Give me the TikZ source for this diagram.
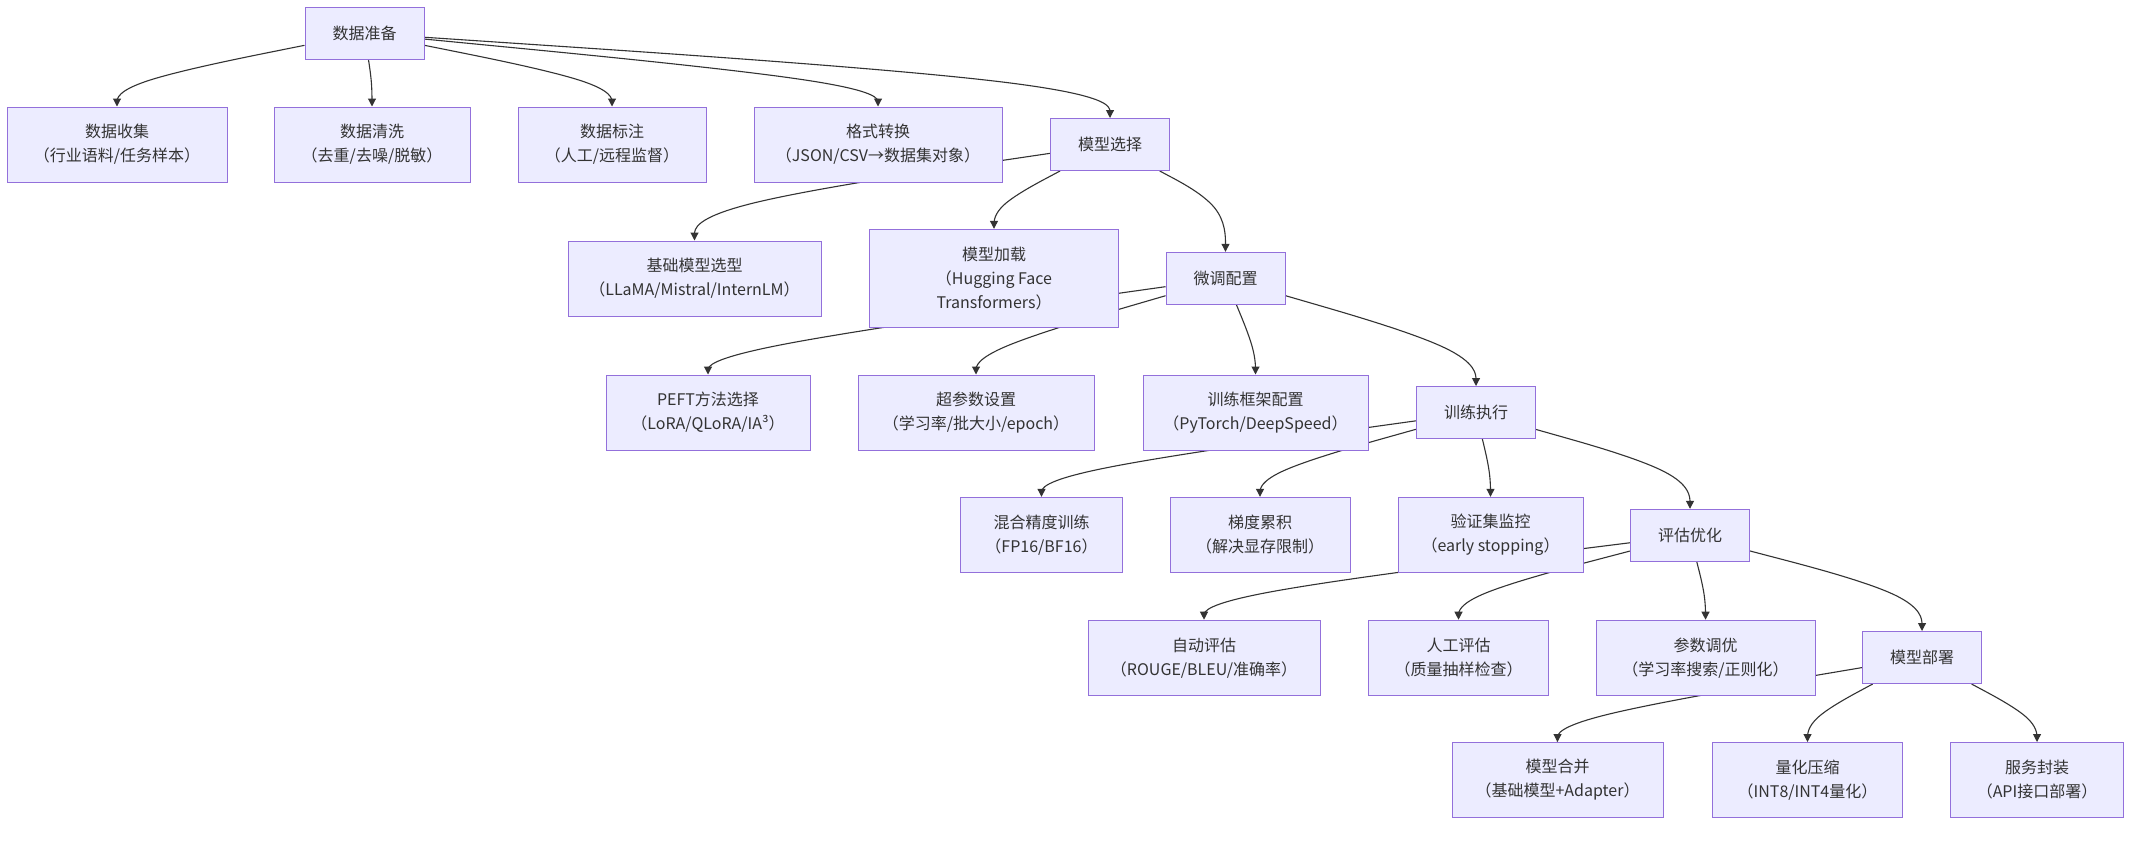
\documentclass[tikz,border=0pt]{standalone}
\usepackage{fontspec}
\setmainfont{Noto Sans CJK SC}
\usetikzlibrary{calc,arrows.meta}
\pgfdeclarelayer{back}
\pgfdeclarelayer{bg}
\pgfsetlayers{back,bg,main}
\definecolor{boxfill}{HTML}{ECECFF}
\definecolor{boxline}{HTML}{9370DB}
\definecolor{txtc}{HTML}{333333}
\definecolor{edgec}{HTML}{333333}
\tikzset{
  box/.style={draw=boxline, fill=boxfill, line width=1pt, inner sep=0pt,
    align=center, text=txtc, font=\fontsize{16}{24}\selectfont},
  edgeline/.style={draw=edgec, line width=1.1pt, -{Triangle[length=8pt,width=8pt]}}
}
\newcommand\bx[6]{\node[box,minimum width=#4pt,minimum height=#5pt] (#1) at (#2,#3) {#6};}
\newcommand\myedge[3]{%
  \coordinate (Y) at (0,#3);
  \coordinate (B) at (#2.center |- Y);
  \path (#1) -- coordinate[pos=0] (A) (B);
  \path (#2) -- coordinate[pos=0] (C) (B);
  \coordinate (P1) at ($(A)!0.666667!(B)$);
  \coordinate (P2) at ($(B)!0.333333!(C)$);
  \coordinate (M) at ($(P1)!0.5!(P2)$);
  \begin{pgfonlayer}{bg}
  \draw[edgeline] (A) -- ($(A)!0.166667!(B)$) .. controls ($(A)!0.333333!(B)$) and (P1) .. (M) .. controls (P2) and ($(B)!0.666667!(C)$) .. ($(B)!0.833333!(C)$) -- (C);
  \end{pgfonlayer}
}
\begin{document}
\begin{tikzpicture}[x=1pt,y=-1pt]
\begin{pgfonlayer}{back}
\fill[white] (0,0) rectangle (2133,852);
\end{pgfonlayer}
\useasboundingbox (0,0) rectangle (2133,852);
% row 0
\bx{prep}{364.5}{33.3}{119}{52}{数据准备}
% row 2
\bx{collect}{117}{144.5}{220}{75}{数据收集\\（行业语料/任务样本）}
\bx{clean}{372}{144.5}{196}{75}{数据清洗\\（去重/去噪/脱敏）}
\bx{label}{612}{144.5}{188}{75}{数据标注\\（人工/远程监督）}
\bx{fmt}{878}{144.5}{248}{75}{格式转换\\（JSON/CSV→数据集对象）}
\bx{msel}{1110}{144.5}{119}{52}{模型选择}
% row 4
\bx{base}{694.5}{278.5}{253}{75}{基础模型选型\\（LLaMA/Mistral/InternLM）}
\bx{load}{994}{278.3}{249}{98}{模型加载\\（Hugging Face\\Transformers）}
\bx{ftcfg}{1225.5}{278.3}{119}{52}{微调配置}
% row 6
\bx{peft}{708}{412.5}{204}{75}{PEFT方法选择\\（LoRA/QLoRA/IA³）}
\bx{hyper}{976}{412.5}{236}{75}{超参数设置\\（学习率/批大小/epoch）}
\bx{frame}{1255.5}{412.5}{225}{75}{训练框架配置\\（PyTorch/DeepSpeed）}
\bx{train}{1476}{412.5}{119}{52}{训练执行}
% row 8
\bx{amp}{1041.5}{534.8}{162}{75}{混合精度训练\\（FP16/BF16）}
\bx{grad}{1260}{534.8}{180}{75}{梯度累积\\（解决显存限制）}
\bx{val}{1490.5}{534.8}{185}{75}{验证集监控\\（early stopping）}
\bx{eval}{1690}{535.3}{119}{52}{评估优化}
% row 10
\bx{auto}{1204}{657.7}{232}{75}{自动评估\\（ROUGE/BLEU/准确率）}
\bx{human}{1458.5}{657.7}{180}{75}{人工评估\\（质量抽样检查）}
\bx{tune}{1705.5}{657.7}{219}{75}{参数调优\\（学习率搜索/正则化）}
\bx{deploy}{1922}{657.5}{119}{52}{模型部署}
% row 12
\bx{merge}{1557.5}{780}{211}{75}{模型合并\\（基础模型+Adapter）}
\bx{quant}{1807.5}{780}{190}{75}{量化压缩\\（INT8/INT4量化）}
\bx{serve}{2037}{780}{173}{75}{服务封装\\（API接口部署）}
% edges
\myedge{prep}{collect}{83}
\myedge{prep}{clean}{83}
\myedge{prep}{label}{83}
\myedge{prep}{fmt}{83}
\myedge{prep}{msel}{83}
\myedge{msel}{base}{206}
\myedge{msel}{load}{206}
\myedge{msel}{ftcfg}{206}
\myedge{ftcfg}{peft}{351}
\myedge{ftcfg}{hyper}{351}
\myedge{ftcfg}{frame}{351}
\myedge{ftcfg}{train}{351}
\myedge{train}{amp}{473}
\myedge{train}{grad}{473}
\myedge{train}{val}{473}
\myedge{train}{eval}{473}
\myedge{eval}{auto}{596}
\myedge{eval}{human}{596}
\myedge{eval}{tune}{596}
\myedge{eval}{deploy}{596}
\myedge{deploy}{merge}{719}
\myedge{deploy}{quant}{719}
\myedge{deploy}{serve}{719}
\end{tikzpicture}
\end{document}
